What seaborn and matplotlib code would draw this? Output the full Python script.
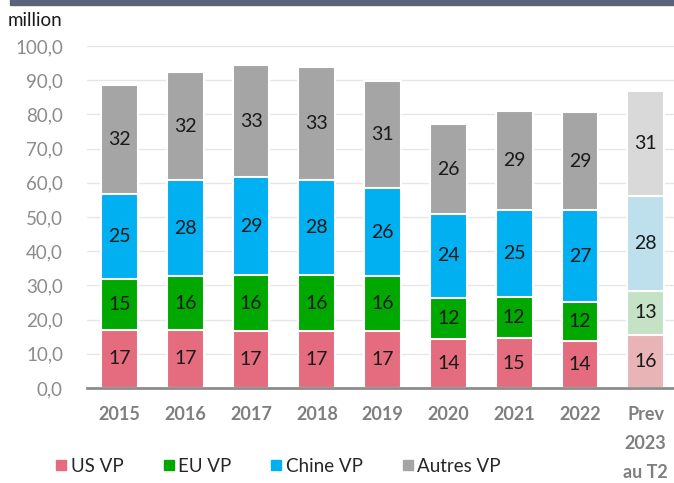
import numpy as np
import pandas as pd
import seaborn as sns
import matplotlib.pyplot as plt
from matplotlib.lines import Line2D
from matplotlib.patches import Rectangle

categories = ['2015', '2016', '2017', '2018', '2019', '2020', '2021', '2022', 'Prev\n2023\nau T2']
us_vp = [17.0, 17.0, 16.7, 16.6, 16.6, 14.2, 14.6, 13.6, 15.6]
eu_vp = [14.9, 15.6, 16.3, 16.4, 16.0, 12.2, 12.1, 11.6, 12.8]
chine_vp = [24.7, 28.2, 28.6, 27.8, 25.9, 24.4, 25.4, 26.7, 27.6]
autres_vp = [31.9, 31.6, 32.9, 33.0, 31.3, 26.3, 28.9, 28.8, 30.8]
series_names = ['US VP', 'EU VP', 'Chine VP', 'Autres VP']

# normal colours, then the lighter ones used for the forecast bar
colors = ['#E46C7E', '#00A800', '#00B0F0', '#A5A5A5']
colors_prev = ['#E8B4B6', '#C5E2C6', '#BEE0EC', '#D9D9D9']

sns.set_theme(style='white')
plt.rcParams['font.family'] = ['Lato', 'DejaVu Sans']

df = pd.DataFrame({'annee': categories, 'US VP': us_vp, 'EU VP': eu_vp,
                   'Chine VP': chine_vp, 'Autres VP': autres_vp})
cum = df[series_names].cumsum(axis=1)

fig = plt.figure(figsize=(6.74, 4.83), dpi=100)
ax = fig.add_axes([0.1285, 0.1967, 0.8715, 0.7081])

# draw cumulative totals from the top layer down so they stack
for k in range(len(series_names) - 1, -1, -1):
    pal = [colors[k]] * (len(categories) - 1) + [colors_prev[k]]
    plot_df = pd.DataFrame({'annee': categories, 'val': cum[series_names[k]]})
    sns.barplot(data=plot_df, x='annee', y='val', hue='annee', palette=pal,
                order=categories, hue_order=categories, legend=False,
                width=0.56, edgecolor='white', linewidth=1.5, saturation=1, ax=ax)

# segment labels
for i in range(len(categories)):
    base = 0
    for name in series_names:
        v = df[name][i]
        ax.text(i, base + v / 2, f'{round(v):d}', ha='center', va='center',
                fontsize=14, color='#1a1a1a')
        base += v

ax.set_ylim(0, 100)
ax.set_xlim(-0.5, 8.43)
ax.set_yticks(np.arange(0, 101, 10))
ax.set_yticklabels([f'{t:.1f}'.replace('.', ',') for t in np.arange(0, 101, 10)],
                   fontsize=13.5, color='#8C8C8C')
ax.set_xticks(range(len(categories)))
ax.set_xticklabels(categories, fontsize=13, color='#7F7F7F', fontweight='bold',
                   linespacing=1.85)
ax.tick_params(axis='y', length=0, pad=17)
ax.tick_params(axis='x', length=0, pad=13)
ax.set_xlabel('')
ax.set_ylabel('')
ax.yaxis.grid(True, color='#E6E6E6', linewidth=1)
ax.set_axisbelow(True)
for side in ['top', 'right', 'left']:
    ax.spines[side].set_visible(False)
ax.spines['bottom'].set_color('#8C8C8C')
ax.spines['bottom'].set_linewidth(2)

fig.text(0.012, 0.958, 'million', fontsize=13.5, color='#1a1a1a', va='center')
fig.patches.append(Rectangle((0.015, 0.99), 0.985, 0.012, transform=fig.transFigure,
                             color='#5B6378', zorder=5))

handles = [Line2D([0], [0], marker='s', linestyle='', markersize=7,
                  markerfacecolor=c, markeredgecolor=c) for c in colors]
fig.legend(handles, series_names, loc='center left', bbox_to_anchor=(0.055, 0.035),
           ncol=4, frameon=False, fontsize=13.5, handletextpad=0.1, columnspacing=2.0,
           labelcolor='#262626', handlelength=0.8)

fig.savefig('out.png', dpi=100)
